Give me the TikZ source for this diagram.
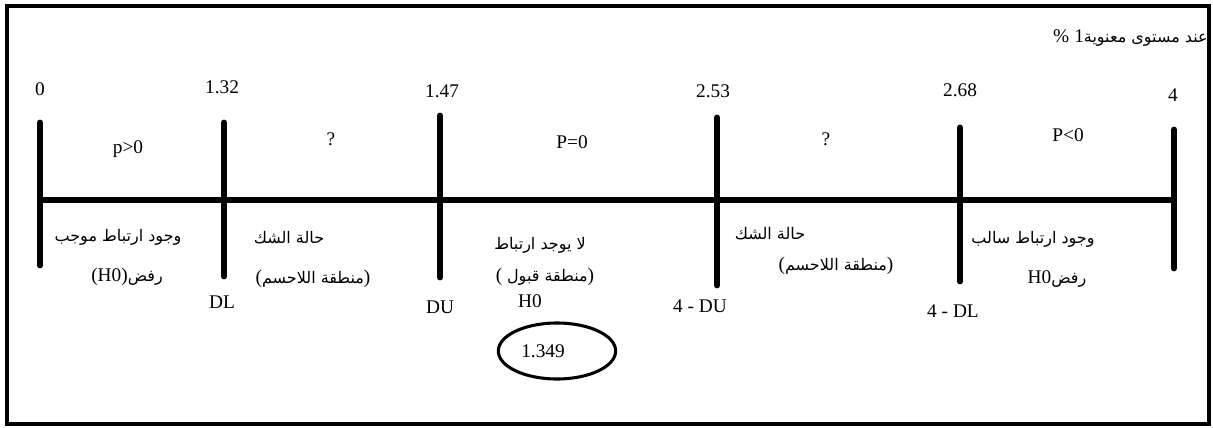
\documentclass[tikz,border=0pt]{standalone}
\usepackage{fontspec}
\setmainfont{Liberation Serif}
\newfontfamily\arabicfont[Script=Arabic]{DejaVu Sans}
\TeXXeTstate=1
\usetikzlibrary{shapes.geometric}
\newcommand{\lat}[1]{{\rmfamily\fontsize{14.5}{16}\selectfont #1}}
\tikzset{
  frame/.style={line width=2.6pt},
  axisline/.style={line width=5.2pt},
  tick/.style={line width=5.2pt, line cap=round},
  num/.style={font=\fontsize{14.5}{16}\selectfont, inner sep=0pt},
  ar/.style={font=\arabicfont\fontsize{12}{14}\selectfont, inner sep=0pt},
  oval/.style={draw, ellipse, line width=2.3pt, inner sep=0pt}
}
\begin{document}
\begin{tikzpicture}[x=0.75pt,y=-0.75pt]
\useasboundingbox (0,0) rectangle (1213,428);
\draw[frame] (7,6) rectangle (1209,424);
% axis
\coordinate (aL) at (38,200);
\coordinate (aR) at (1176,200);
\draw[axisline] (aL) -- (aR);
% ticks
\coordinate (t0a) at (40,123); \coordinate (t0b) at (40,265);
\coordinate (t1a) at (224,123); \coordinate (t1b) at (224,276);
\coordinate (t2a) at (440,116); \coordinate (t2b) at (440,277);
\coordinate (t3a) at (717,118); \coordinate (t3b) at (717,285);
\coordinate (t4a) at (960,128); \coordinate (t4b) at (960,281);
\coordinate (t5a) at (1174,130); \coordinate (t5b) at (1174,268);
\foreach \i in {0,...,5}{\draw[tick] (t\i a) -- (t\i b);}
% numbers above
\node[num] (n0) at (40,89) {0};
\node[num] (n1) at (222,87) {1.32};
\node[num] (n2) at (442,91) {1.47};
\node[num] (n3) at (713,91) {2.53};
\node[num] (n4) at (960,90) {2.68};
\node[num] (n5) at (1173,95) {4};
% region signs
\node[num] (r1) at (128,149) {p>0};
\node[num] (r2) at (331,139) {?};
\node[num] (r3) at (572,142) {P=0};
\node[num] (r4) at (826,139) {?};
\node[num] (r5) at (1068,135) {P<0};
% bound names
\node[num] (b1) at (222,302) {DL};
\node[num] (b2) at (440,307) {DU};
\node[num] (b3) at (700,306) {4 - DU};
\node[num] (b4) at (953,311) {4 - DL};
\node[num] (h0) at (530,301) {H0};
% arabic texts
\node[ar] (a1) at (118,237) {\beginR وجود ارتباط موجب\endR};
\node[ar] (a2) at (127,277) {\beginR رفض\beginL\lat{(H0)}\endL\endR};
\node[ar] (a3) at (289,238) {\beginR حالة الشك\endR};
\node[ar] (a4) at (313,279) {\lat{(}\beginR منطقة اللاحسم\endR\lat{)}};
\node[ar] (a5) at (540,245) {\beginR لا يوجد ارتباط\endR};
\node[ar] (a6) at (545,277) {\lat{( }\beginR منطقة قبول\endR\lat{)}};
\node[ar] (a7) at (770,234) {\beginR حالة الشك\endR};
\node[ar] (a8) at (836,266) {\lat{(}\beginR منطقة اللاحسم\endR\lat{)}};
\node[ar] (a9) at (1033,239) {\beginR وجود ارتباط سالب\endR};
\node[ar] (a10) at (1057,279) {\beginR رفض\beginL\lat{H0}\endL\endR};
\node[ar, anchor=east] (tt) at (1208,38) {\beginR عند مستوى معنوية\beginL\lat{1}\endL{} \lat{\%}\endR};
% ellipse
\node[oval, minimum width=88pt, minimum height=42pt] (e) at (557,351) {};
\node[num] (v) at (543,351) {1.349};
\end{tikzpicture}
\end{document}
